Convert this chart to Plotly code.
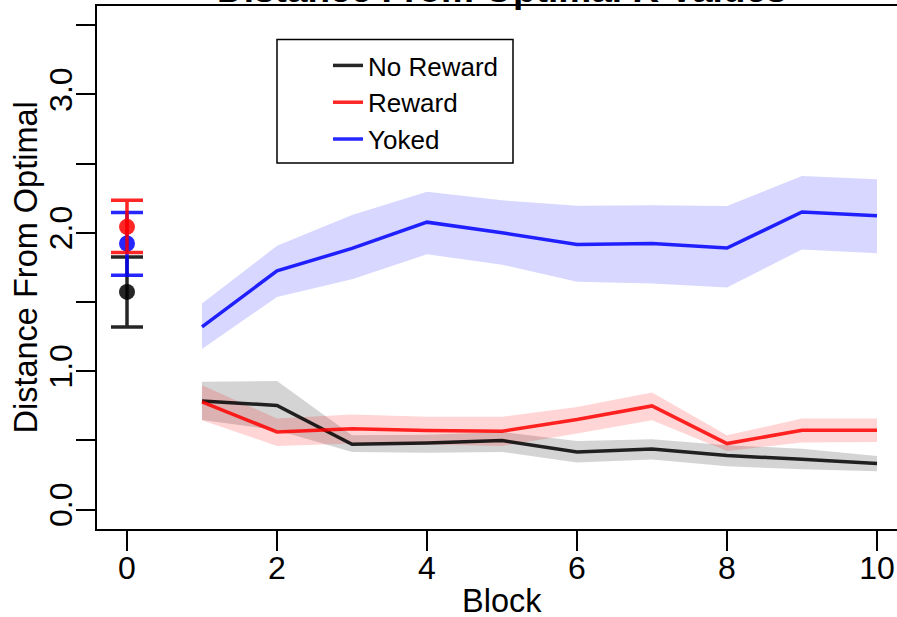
import plotly.graph_objects as go

# ---------------- data ----------------
blocks = [1, 2, 3, 4, 5, 6, 7, 8, 9, 10]

no_reward = [0.785, 0.752, 0.472, 0.482, 0.499, 0.417, 0.438, 0.390, 0.364, 0.333]
no_reward_lo = [0.647, 0.574, 0.417, 0.410, 0.417, 0.340, 0.362, 0.313, 0.291, 0.277]
no_reward_hi = [0.923, 0.930, 0.537, 0.540, 0.560, 0.496, 0.508, 0.465, 0.440, 0.388]

reward = [0.778, 0.561, 0.585, 0.571, 0.566, 0.651, 0.749, 0.477, 0.573, 0.573]
reward_lo = [0.646, 0.460, 0.477, 0.470, 0.460, 0.550, 0.646, 0.424, 0.484, 0.489]
reward_hi = [0.899, 0.658, 0.687, 0.670, 0.670, 0.742, 0.846, 0.537, 0.658, 0.658]

yoked = [1.320, 1.725, 1.887, 2.077, 2.000, 1.916, 1.923, 1.890, 2.151, 2.123]
yoked_lo = [1.160, 1.537, 1.665, 1.846, 1.770, 1.646, 1.634, 1.605, 1.880, 1.852]
yoked_hi = [1.490, 1.906, 2.128, 2.297, 2.235, 2.195, 2.200, 2.193, 2.410, 2.387]

# block 0 (baseline) means with error bars: No Reward, Yoked, Reward
block0_groups = ["No Reward", "Yoked", "Reward"]
block0_mean = [1.573, 1.923, 2.043]
block0_hi = [1.826, 2.147, 2.236]
block0_lo = [1.320, 1.694, 1.858]

series_names = ["No Reward", "Reward", "Yoked"]
y_tick_vals = [0, 0.5, 1.0, 1.5, 2.0, 2.5, 3.0, 3.5]
y_tick_text = ["0.0", "", "1.0", "", "2.0", "", "3.0", ""]
x_tick_vals = [0, 2, 4, 6, 8, 10]

# ---------------- styling ----------------
FONT = "Liberation Sans, Arial, Helvetica, sans-serif"
line_col = {"No Reward": "rgba(0,0,0,0.85)", "Reward": "rgba(255,0,0,0.85)",
            "Yoked": "rgba(0,0,255,0.85)"}
band_col = {"No Reward": "rgba(0,0,0,0.17)", "Reward": "rgba(255,0,0,0.165)",
            "Yoked": "rgba(0,0,255,0.155)"}

W, H = 897, 617
ML, MT, MB, MR = 97, 6, 88.3, 0
plot_h = H - MT - MB
plot_w = W - ML - MR

def py(p):  # pixel y -> paper y
    return 1 - (p - MT) / plot_h

def px(p):  # pixel x -> paper x
    return (p - ML) / plot_w

fig = go.Figure()

data = {
    "No Reward": (no_reward, no_reward_lo, no_reward_hi),
    "Reward": (reward, reward_lo, reward_hi),
    "Yoked": (yoked, yoked_lo, yoked_hi),
}

# bands
for name in ["No Reward", "Reward", "Yoked"]:
    m, lo, hi = data[name]
    fig.add_trace(go.Scatter(
        x=blocks + blocks[::-1], y=hi + lo[::-1], fill="toself",
        fillcolor=band_col[name], line=dict(width=0), mode="lines",
        hoverinfo="skip", showlegend=False))

# lines
for name in series_names:
    m, lo, hi = data[name]
    fig.add_trace(go.Scatter(
        x=blocks, y=m, mode="lines", name=name,
        line=dict(color=line_col[name], width=3.5), showlegend=True))

# block 0 points with error bars
for g, m, hi, lo in zip(block0_groups, block0_mean, block0_hi, block0_lo):
    fig.add_trace(go.Scatter(
        x=[0], y=[m], mode="markers", showlegend=False,
        marker=dict(color=line_col[g], size=16, line=dict(width=0)),
        error_y=dict(type="data", symmetric=False, array=[hi - m],
                     arrayminus=[m - lo], color=line_col[g], thickness=3.5,
                     width=16)))

# legend frame
fig.add_shape(type="rect", xref="paper", yref="paper",
              x0=px(277), x1=px(513), y0=py(163), y1=py(39.5),
              line=dict(color="black", width=1.5), fillcolor="white", layer="below")

# title and axis titles
fig.add_annotation(text="<b>Distance From Optimal K Values</b>", x=5, xref="x",
                   y=1, yref="paper", yanchor="middle", yshift=17, showarrow=False,
                   font=dict(family=FONT, size=37, color="black"))
fig.add_annotation(text="Block", x=5, xref="x", y=0, yref="paper",
                   yanchor="middle", yshift=-72, showarrow=False,
                   font=dict(family=FONT, size=32.5, color="black"))
fig.add_annotation(text="Distance From Optimal", x=0, xref="paper", xshift=-72,
                   xanchor="center", yanchor="middle",
                   y=0.5, yref="paper", textangle=-90, showarrow=False,
                   font=dict(family=FONT, size=32.5, color="black"))

fig.update_layout(
    width=W, height=H,
    margin=dict(l=ML, r=MR, t=MT, b=MB, pad=0),
    plot_bgcolor="white", paper_bgcolor="white",
    font=dict(family=FONT, size=32, color="black"),
    showlegend=True,
    legend=dict(x=px(328), y=py(42), xanchor="left", yanchor="top",
                bgcolor="rgba(0,0,0,0)", borderwidth=0,
                font=dict(family=FONT, size=26, color="black")),
    xaxis=dict(range=[-0.4, (W - 127) / 75.0], tickvals=x_tick_vals,
               ticks="outside", ticklen=19.5, tickwidth=2, tickcolor="black",
               ticklabelstandoff=-10,
               showline=True, linewidth=2, linecolor="black", mirror=True,
               showgrid=False, zeroline=False,
               tickfont=dict(family=FONT, size=32, color="black")),
    yaxis=dict(range=[-0.1403, 3.639], tickvals=y_tick_vals, ticktext=y_tick_text,
               ticks="outside", ticklen=19.5, tickwidth=2, tickcolor="black",
               tickangle=-90, ticklabelstandoff=-9,
               showline=True, linewidth=2, linecolor="black", mirror=False,
               showgrid=False, zeroline=False,
               tickfont=dict(family=FONT, size=32, color="black")),
)

fig.write_html("out.html")
